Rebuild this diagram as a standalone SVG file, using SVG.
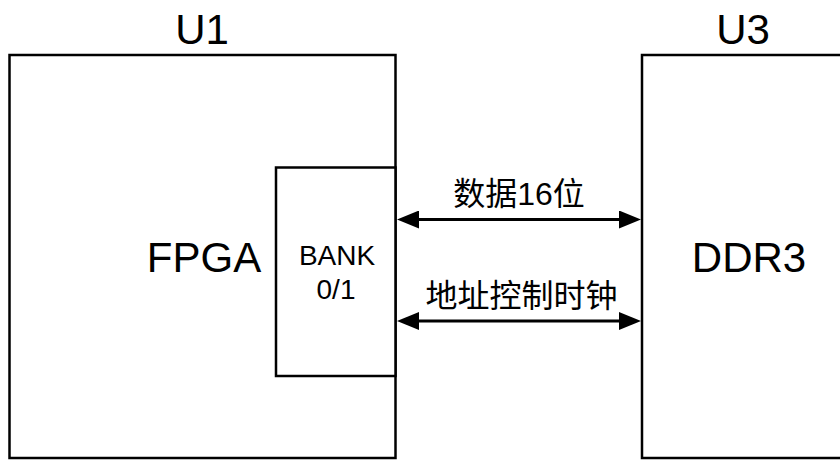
<svg xmlns="http://www.w3.org/2000/svg" width="840" height="460" viewBox="0 0 840 460">
<style>
.box{fill:#fff;stroke:#000;stroke-width:2.5}
.t{font-family:"Liberation Sans","Noto Sans CJK SC",Arial,sans-serif;fill:#000;text-anchor:middle}
.big{font-size:42px}
.mid{font-size:28px}
.cn{font-size:32px}
.wire{stroke:#000;stroke-width:3;fill:none;marker-start:url(#ah);marker-end:url(#ah)}
</style>
<defs>
<marker id="ah" viewBox="0 0 22 18" refX="17" refY="9" markerWidth="22" markerHeight="18" markerUnits="userSpaceOnUse" orient="auto-start-reverse">
<path d="M0,0 L22,9 L0,18 z" fill="#000"/>
</marker>
</defs>
<rect width="840" height="460" fill="#fff"/>
<g id="U1">
<rect class="box" x="9.5" y="55" width="386" height="403"/>
<text class="t big" x="202" y="44">U1</text>
<text class="t big" x="204" y="272">FPGA</text>
</g>
<g id="BANK">
<rect class="box" x="276" y="167.5" width="119.5" height="208.5"/>
<text class="t mid" x="337" y="265">BANK</text>
<text class="t mid" x="336" y="299">0/1</text>
</g>
<g id="U3">
<rect class="box" x="642" y="55" width="210" height="403"/>
<text class="t big" x="743" y="44">U3</text>
<text class="t big" x="749" y="272">DDR3</text>
</g>
<g id="connectors">
<line class="wire" x1="402" y1="219.5" x2="636" y2="219.5"/>
<text class="t cn" x="519" y="205">数据16位</text>
<line class="wire" x1="402" y1="321" x2="636" y2="321"/>
<text class="t cn" x="521.5" y="307">地址控制时钟</text>
</g>
</svg>
